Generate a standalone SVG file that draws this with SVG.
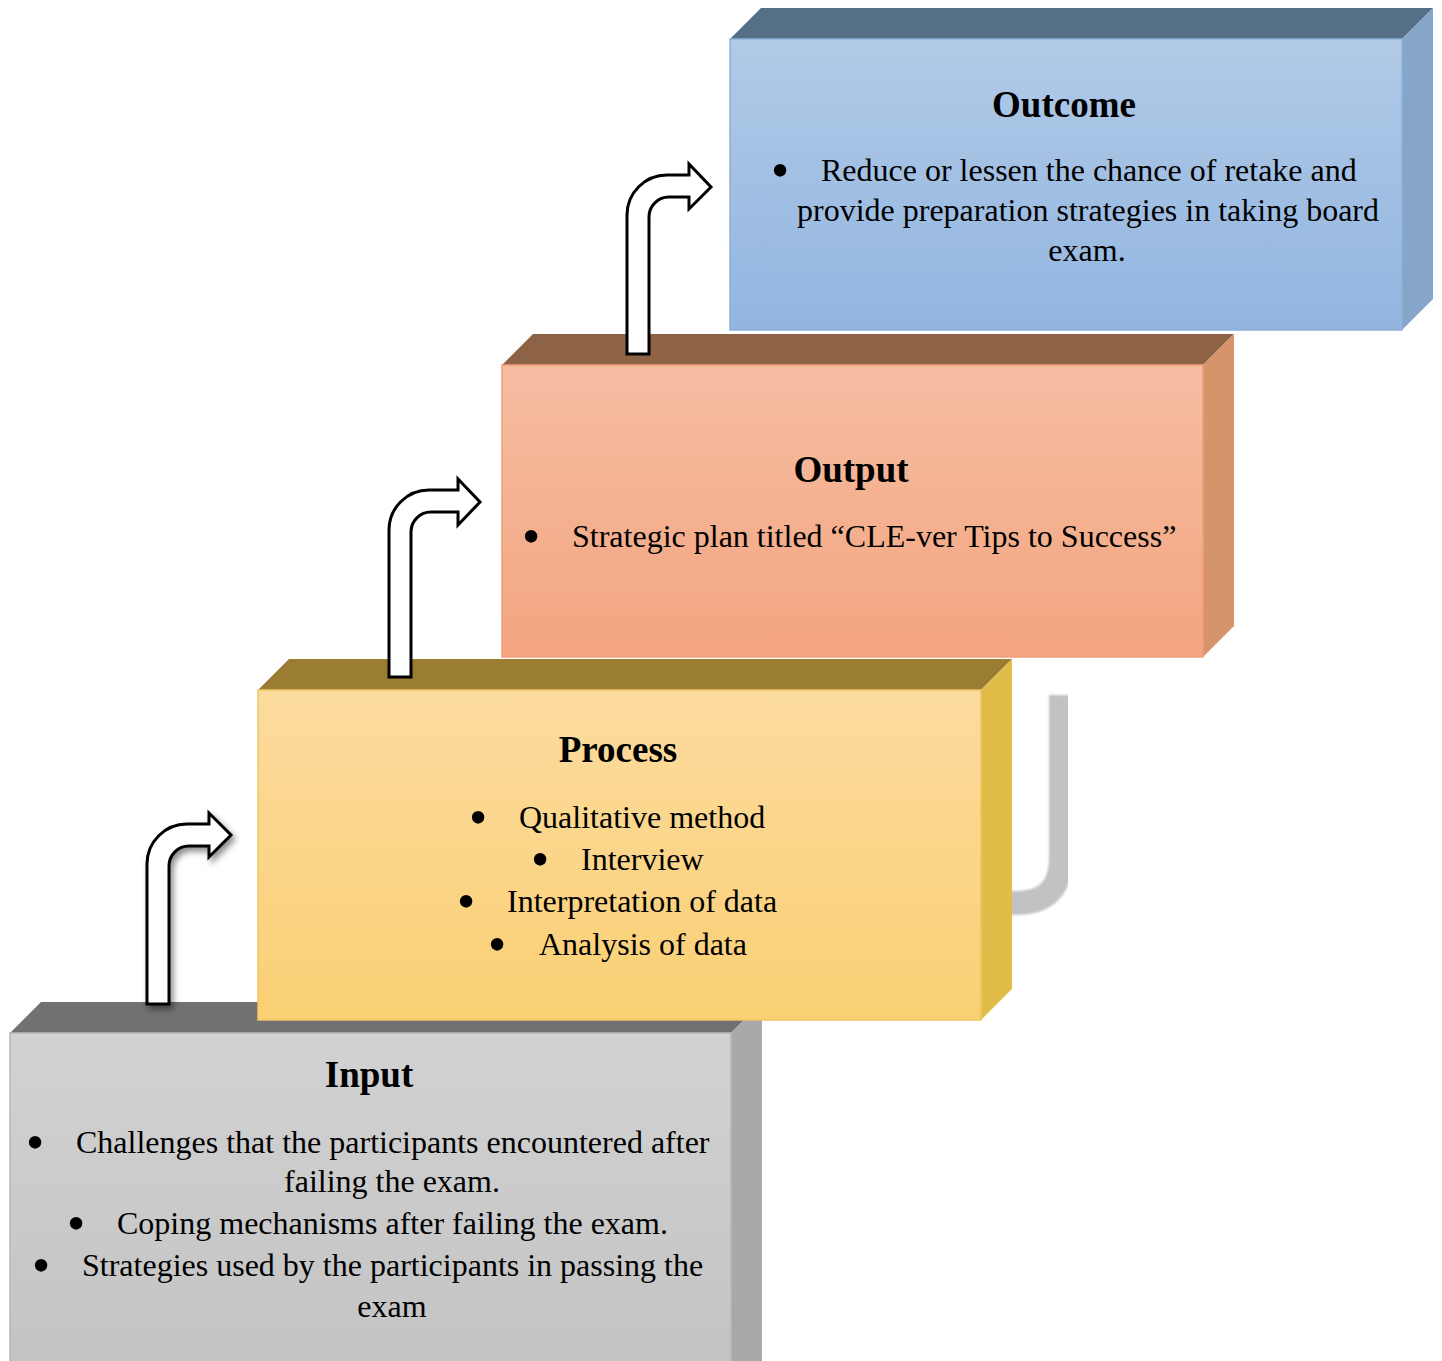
<svg xmlns="http://www.w3.org/2000/svg" width="1442" height="1361" viewBox="0 0 1442 1361">
<style>
.t{font-family:"Liberation Serif","Times New Roman",serif;font-size:32px;fill:#000}
.b{font-family:"Liberation Serif","Times New Roman",serif;font-size:52px;fill:#000;text-anchor:middle}
.h{font-family:"Liberation Serif","Times New Roman",serif;font-size:37px;font-weight:bold;fill:#000}
.m{text-anchor:middle}
.arrow{fill:#fff;stroke:#000;stroke-width:3;stroke-linejoin:miter}
</style>
<defs>
<linearGradient id="gOut" x1="0" y1="0" x2="0" y2="1"><stop offset="0" stop-color="#B1CAE7"/><stop offset="1" stop-color="#92B5E0"/></linearGradient>
<linearGradient id="gOutp" x1="0" y1="0" x2="0" y2="1"><stop offset="0" stop-color="#F6BDA3"/><stop offset="1" stop-color="#F3A57F"/></linearGradient>
<linearGradient id="gProc" x1="0" y1="0" x2="0" y2="1"><stop offset="0" stop-color="#FCDB9F"/><stop offset="1" stop-color="#FAD074"/></linearGradient>
<linearGradient id="gIn" x1="0" y1="0" x2="0" y2="1"><stop offset="0" stop-color="#D2D2D2"/><stop offset="1" stop-color="#C3C3C3"/></linearGradient>
<filter id="sh" x="-50%" y="-20%" width="200%" height="140%"><feDropShadow dx="3" dy="4" stdDeviation="3" flood-color="#000" flood-opacity="0.45"/></filter>
<filter id="blur"><feGaussianBlur stdDeviation="1.2"/></filter>
</defs>

<g id="outcome">
<polygon points="730,39 761,8 1433,8 1402,39" fill="#557086"/>
<polygon points="1402,39 1433,8 1433,299 1402,330" fill="#86A6C9"/>
<rect x="730" y="39" width="672" height="291" fill="url(#gOut)" stroke="#8FB0D8" stroke-width="1.5"/>
<text class="h m" x="1064" y="117">Outcome</text>
<text class="b" x="780" y="188">•</text>
<text class="t" x="821" y="181">Reduce or lessen the chance of retake and</text>
<text class="t m" x="1088" y="221">provide preparation strategies in taking board</text>
<text class="t m" x="1087" y="261">exam.</text>
</g>

<g id="output">
<polygon points="502,365 533,334 1234,334 1203,365" fill="#8D6245"/>
<polygon points="1203,365 1234,334 1234,626 1203,657" fill="#D59469"/>
<rect x="502" y="365" width="701" height="292" fill="url(#gOutp)" stroke="#EE9E7C" stroke-width="1.5"/>
<text class="h m" x="851" y="482">Output</text>
<text class="b" x="531" y="554">•</text>
<text class="t" x="572" y="547">Strategic plan titled “CLE-ver Tips to Success”</text>
</g>

<g id="shadow-mark">
<path d="M1061,695 L1061,858 Q1061,903 1016,903 L1000,903" fill="none" stroke="#C2C2C2" stroke-width="24" filter="url(#blur)"/>
</g>

<g id="input">
<polygon points="10,1033 41,1002 762,1002 731,1033" fill="#717171"/>
<polygon points="731,1033 762,1002 762,1361 731,1361" fill="#A9A9A9"/>
<rect x="10" y="1033" width="721" height="340" fill="url(#gIn)" stroke="#B8B8B8" stroke-width="1.5"/>
<text class="h m" x="369" y="1087">Input</text>
<text class="b" x="35" y="1160">•</text>
<text class="t" x="76" y="1153">Challenges that the participants encountered after</text>
<text class="t m" x="392" y="1192">failing the exam.</text>
<text class="b" x="76" y="1241">•</text>
<text class="t" x="117" y="1234">Coping mechanisms after failing the exam.</text>
<text class="b" x="41" y="1283">•</text>
<text class="t" x="82" y="1276">Strategies used by the participants in passing the</text>
<text class="t m" x="392" y="1317">exam</text>
</g>

<g id="process">
<polygon points="258,690 289,659 1012,659 981,690" fill="#9A7C33"/>
<polygon points="981,690 1012,659 1012,989 981,1020" fill="#E0BC48"/>
<rect x="258" y="690" width="723" height="330" fill="url(#gProc)" stroke="#F2C560" stroke-width="1.5"/>
<text class="h m" x="618" y="762">Process</text>
<text class="b" x="478" y="835">•</text>
<text class="t" x="519" y="828">Qualitative method</text>
<text class="b" x="540" y="877">•</text>
<text class="t" x="581" y="870">Interview</text>
<text class="b" x="466" y="919">•</text>
<text class="t" x="507" y="912">Interpretation of data</text>
<text class="b" x="497" y="962">•</text>
<text class="t" x="539" y="955">Analysis of data</text>
</g>

<g id="connectors">
<path class="arrow" filter="url(#sh)" d="M147,1004 L147,864 A40,40 0 0 1 187,824 L209,824 L209,813 L231,835 L209,857 L209,846 L189,846 A20,20 0 0 0 169,866 L169,1004 Z"/>
<path class="arrow" d="M389,677 L389,530 A40,40 0 0 1 429,490 L458,490 L458,479 L480,502 L458,525 L458,512 L431,512 A20,20 0 0 0 411,532 L411,677 Z"/>
<path class="arrow" d="M627,354 L627,215 A40,40 0 0 1 667,175 L689,175 L689,164 L711,187 L689,209 L689,197 L669,197 A20,20 0 0 0 649,217 L649,354 Z"/>
</g>
</svg>
